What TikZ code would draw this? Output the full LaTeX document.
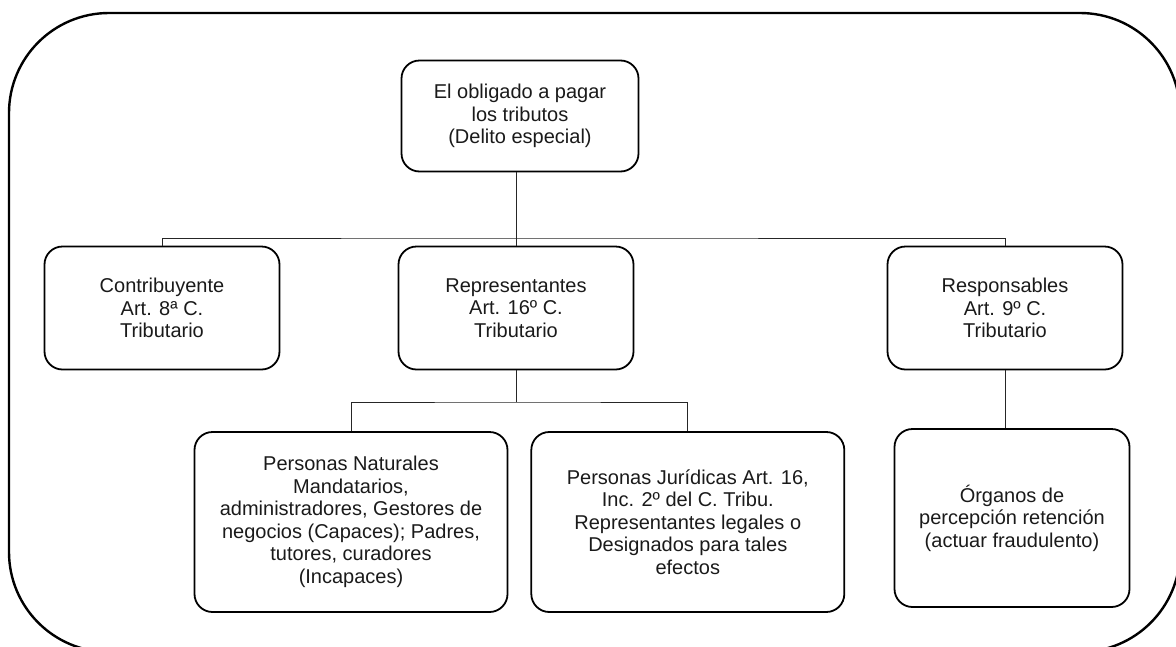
\documentclass[tikz,border=0pt]{standalone}
\usepackage{fontspec}
\setmainfont{Liberation Sans}
\usetikzlibrary{positioning}
\definecolor{Ink}{HTML}{1A1A1A}

\begin{document}
\begin{tikzpicture}[
      x=1pt, y=-1pt,
      box/.style={draw=black, line width=1.8pt, rounded corners=18pt,
                  minimum width=235pt, minimum height=123pt,
                  align=center, text=Ink, inner sep=2pt,
                  font=\fontsize{20}{22.5}\selectfont},
      wide/.style={box, minimum width=313pt, minimum height=180pt},
      link/.style={draw=black!85, line width=0.9pt}
    ]
      \useasboundingbox (0,0) rectangle (1176,646);
      \draw[line width=2.4pt, rounded corners=100pt] (9,13) rectangle (1180,652);

      \node[box, minimum width=237pt, minimum height=111pt] (o) at (520,116)
        {El obligado a pagar\\los tributos\\(Delito especial)};

      \node[box] (c) at (162,308) {Contribuyente\\Art. 8ª C.\\Tributario};
      \node[box] (r) at (516,308) {Representantes\\Art. 16º C.\\Tributario};
      \node[box] (s) at (1005,308) {Responsables\\Art. 9º C.\\Tributario};

      \node[wide] (n) at (351,522) {Personas Naturales\\Mandatarios,\\administradores, Gestores de\\negocios (Capaces); Padres,\\tutores, curadores\\(Incapaces)};
      \node[wide, right=22pt of n] (j) {Personas Jurídicas Art. 16,\\Inc. 2º del C. Tribu.\\Representantes legales o\\Designados para tales\\efectos};
      \node[box, minimum height=178pt] (g) at (1012,518) {Órganos de\\percepción retención\\(actuar fraudulento)};

      % upper level
      \coordinate (t) at (516,238);
      \draw[link] (o.south -| t) -- (t);
      \draw[link] (c.north) |- (t) -| (s.north);
      \draw[link] (t) -- (r.north);

      % lower level
      \coordinate (b) at (516,402);
      \draw[link] (r.south) -- (b);
      \draw[link] (n.north) |- (b) -| (j.north);
      \draw[link] (s.south) -- (s.south |- g.north);
    \end{tikzpicture}
\end{document}
